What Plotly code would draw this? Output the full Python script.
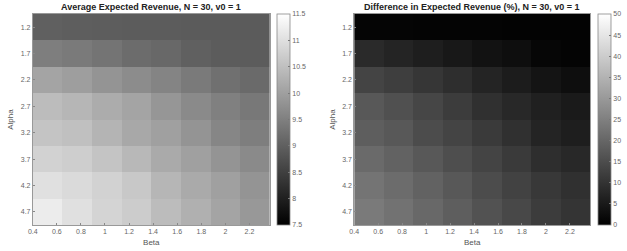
import numpy as np
import plotly.graph_objects as go

alpha = [1.2, 1.7, 2.2, 2.7, 3.2, 3.7, 4.2, 4.7]
beta_ticks = [0.4, 0.6, 0.8, 1.0, 1.2, 1.4, 1.6, 1.8, 2.0, 2.2]
beta_tick_text = ["0.4", "0.6", "0.8", "1", "1.2", "1.4", "1.6", "1.8", "2", "2.2"]
beta_min, beta_max, n_beta = 0.4, 2.37, 8

revenue = [
    [9.00, 8.98, 8.96, 8.95, 8.94, 8.93, 8.92, 8.92],
    [9.48, 9.41, 9.32, 9.19, 9.13, 9.01, 8.94, 8.94],
    [10.07, 9.98, 9.82, 9.70, 9.57, 9.41, 9.26, 9.16],
    [10.45, 10.35, 10.20, 10.07, 9.85, 9.66, 9.50, 9.38],
    [10.58, 10.51, 10.32, 10.14, 10.01, 9.82, 9.60, 9.48],
    [10.79, 10.73, 10.57, 10.39, 10.17, 10.01, 9.82, 9.66],
    [11.01, 10.92, 10.79, 10.64, 10.35, 10.17, 10.01, 9.82],
    [11.20, 11.01, 10.83, 10.70, 10.45, 10.26, 10.07, 9.88],
]
diff_pct = [
    [1.0, 0.9, 0.8, 0.8, 0.7, 0.6, 0.5, 0.5],
    [8.2, 7.1, 5.9, 4.7, 3.5, 2.7, 1.2, 0.8],
    [13.3, 12.2, 10.6, 9.0, 7.1, 5.5, 3.9, 2.7],
    [17.3, 15.7, 13.7, 11.8, 9.4, 7.8, 6.3, 5.1],
    [18.4, 17.3, 14.9, 13.3, 11.4, 9.4, 7.1, 5.9],
    [20.8, 19.2, 17.3, 15.3, 13.3, 11.4, 9.0, 7.8],
    [22.7, 21.2, 19.2, 17.3, 14.9, 12.9, 11.0, 9.4],
    [23.9, 22.4, 20.4, 18.4, 16.1, 14.1, 11.8, 10.2],
]
titles = ["Average Expected Revenue, N = 30, v0 = 1",
          "Difference in Expected Revenue (%), N = 30, v0 = 1"]
cb_ranges = [(7.5, 11.5, 0.5), (0, 50, 5)]

W, H = 627, 251
beta_edges = np.linspace(beta_min, beta_max, n_beta + 1)
gray = [[0, "black"], [1, "white"]]

fig = go.Figure()
plot_px = [(28, 267, 274), (352, 590, 598)]
top_px, bot_px = 14, 225
ydom = [1 - bot_px / H, 1 - top_px / H]
FONT = "Liberation Sans, Arial, sans-serif"

for i, (z, (zmin, zmax, dt)) in enumerate(zip([revenue, diff_pct], cb_ranges)):
    x0, x1, cbx = plot_px[i]
    xa = "x" if i == 0 else "x2"
    ya = "y" if i == 0 else "y2"
    tv = list(np.arange(zmin, zmax + dt / 2, dt))
    tt = [("%g" % v) for v in tv]
    fig.add_trace(go.Heatmap(
        z=z, x=beta_edges, y=alpha, xaxis=xa, yaxis=ya,
        zmin=zmin, zmax=zmax, colorscale=gray,
        colorbar=dict(
            x=cbx / W, xanchor="left", xref="paper",
            y=sum(ydom) / 2, yanchor="middle",
            len=bot_px - top_px, lenmode="pixels",
            thickness=13, thicknessmode="pixels",
            outlinewidth=0.8, outlinecolor="#888",
            tickvals=tv, ticktext=tt, ticks="inside", ticklen=2,
            tickcolor="#777", tickfont=dict(size=7, color="#666", family=FONT),
            xpad=0, ypad=0,
        ),
    ))
    axcommon = dict(showline=True, linecolor="#999", linewidth=0.8, mirror=True,
                    ticks="inside", ticklen=2, tickcolor="#888",
                    tickfont=dict(size=7, color="#666", family=FONT),
                    showgrid=False, zeroline=False)
    fig.update_layout(**{
        ("xaxis" if i == 0 else "xaxis2"): dict(
            domain=[x0 / W, x1 / W], anchor=ya, range=[beta_min, beta_max],
            tickvals=beta_ticks, ticktext=beta_tick_text,
            title=dict(text="Beta", font=dict(size=8, color="#555", family=FONT), standoff=5),
            **axcommon),
        ("yaxis" if i == 0 else "yaxis2"): dict(
            domain=ydom, anchor=xa, range=[4.95, 0.95],
            tickvals=alpha, ticktext=["%g" % a for a in alpha],
            title=dict(text="Alpha", font=dict(size=8, color="#555", family=FONT), standoff=5),
            **axcommon),
    })
    fig.add_annotation(text="<b>" + titles[i] + "</b>", x=(x0 + x1) / 2 / W, y=1 - 7 / H,
                       xref="paper", yref="paper", showarrow=False,
                       font=dict(size=9, color="#222", family=FONT),
                       xanchor="center", yanchor="middle")

fig.update_layout(width=W, height=H, margin=dict(l=0, r=0, t=0, b=0),
                  paper_bgcolor="white", plot_bgcolor="white", showlegend=False)
fig.write_html("out.html")
